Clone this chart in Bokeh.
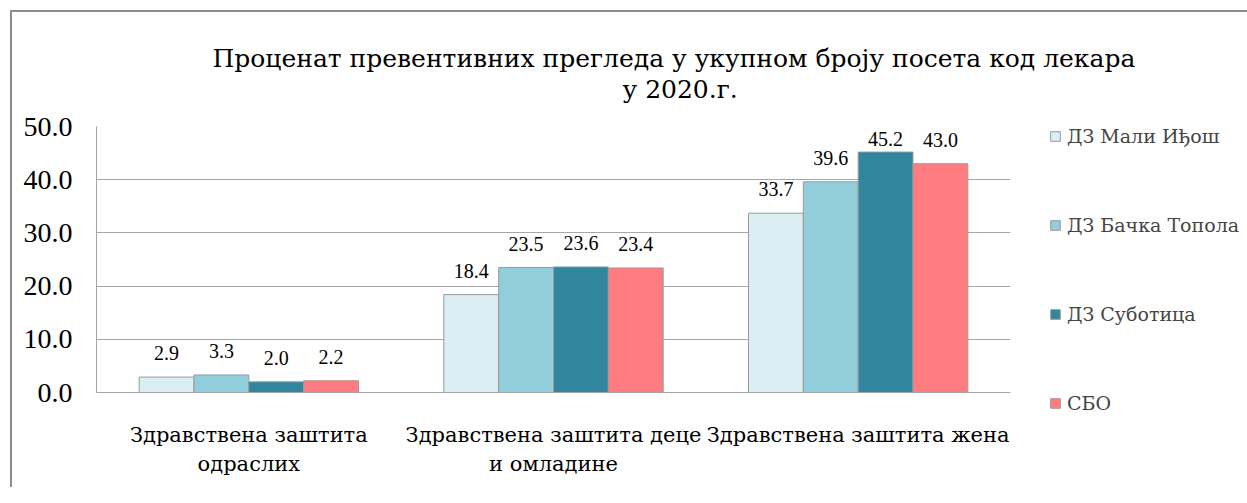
from bokeh.plotting import figure
from bokeh.models import ColumnDataSource, FactorRange, Legend, LegendItem, Title, SingleIntervalTicker, NumeralTickFormatter
from bokeh.transform import dodge
from bokeh.embed import file_html
from bokeh.resources import INLINE

categories = ["Здравствена заштита\nодраслих", "Здравствена заштита деце\nи омладине", "Здравствена заштита жена"]
series_names = ["ДЗ Мали Иђош", "ДЗ Бачка Топола", "ДЗ Суботица", "СБО"]
mali_idjos = [2.9, 18.4, 33.7]
backa_topola = [3.3, 23.5, 39.6]
subotica = [2.0, 23.6, 45.2]
sbo = [2.2, 23.4, 43.0]
title_line1 = "Проценат превентивних прегледа у укупном броју посета код лекара"
title_line2 = "у 2020.г."

series_values = [mali_idjos, backa_topola, subotica, sbo]
colors = ["#DAEEF3", "#92CDDC", "#31859C", "#FF7C80"]
offsets = [-0.27, -0.09, 0.09, 0.27]

SERIF = "Liberation Serif"
TSERIF = "DejaVu Serif"

p = figure(x_range=FactorRange(*categories), y_range=(0, 50),
           frame_width=914, frame_height=266,
           min_border_left=84, min_border_top=114, min_border_bottom=95, min_border_right=45,
           output_backend="svg", toolbar_location=None)
p.styles = {"margin-left": "10px", "margin-top": "10px",
            "border-left": "2px solid #8c8c8c", "border-top": "2px solid #8c8c8c"}

p.outline_line_color = None
p.xgrid.grid_line_color = None
p.ygrid.grid_line_color = "#A6A6A6"
p.ygrid.grid_line_width = 1

p.yaxis.ticker = SingleIntervalTicker(interval=10)
p.yaxis.formatter = NumeralTickFormatter(format="0.0")
p.yaxis.major_tick_line_color = None
p.yaxis.minor_tick_line_color = None
p.yaxis.axis_line_color = "#A6A6A6"
p.yaxis.major_label_text_font = SERIF
p.yaxis.major_label_text_font_size = "28px"
p.yaxis.major_label_text_color = "#000000"
p.yaxis.major_label_standoff = 18

p.xaxis.major_tick_line_color = None
p.xaxis.minor_tick_line_color = None
p.xaxis.axis_line_color = "#A6A6A6"
p.xaxis.major_label_text_font = TSERIF
p.xaxis.major_label_text_font_size = "21px"
p.xaxis.major_label_text_line_height = 1.24
p.xaxis.major_label_text_color = "#000000"
p.xaxis.major_label_standoff = 24

items = []
for name, vals, col, off in zip(series_names, series_values, colors, offsets):
    lab_y = [min(v + 4.5, 47.7) for v in vals]
    src = ColumnDataSource(dict(cat=categories, val=vals, laby=lab_y, lab=[f"{v:.1f}" for v in vals]))
    r = p.vbar(x=dodge("cat", off, range=p.x_range), top="val", width=0.18, source=src,
               fill_color=col, line_color="#9a9a9a", line_width=1)
    p.text(x=dodge("cat", off, range=p.x_range), y="laby", text="lab", source=src,
           text_align="center", text_baseline="middle",
           text_font_size="20px", text_font="Liberation Sans", text_color="#000000")
    items.append(LegendItem(label=name, renderers=[r]))

legend = Legend(items=items, location=(39, -24), padding=0, margin=0, spacing=63,
                glyph_width=12, glyph_height=12, label_height=26, label_standoff=6,
                label_text_font=TSERIF, label_text_font_size="19px",
                border_line_alpha=0, background_fill_alpha=0)
p.add_layout(legend, "right")

p.title = None
t2 = Title(text=title_line2, align="left", offset=526, text_font=TSERIF, text_font_size="25px",
           text_font_style="normal", text_color="#000000", standoff=45)
t1 = Title(text=title_line1, align="left", offset=116, text_font=TSERIF, text_font_size="25px",
           text_font_style="normal", text_color="#000000", standoff=-45)
p.add_layout(t2, "above")
p.add_layout(t1, "above")

open("out.html", "w").write(file_html(p, INLINE))
